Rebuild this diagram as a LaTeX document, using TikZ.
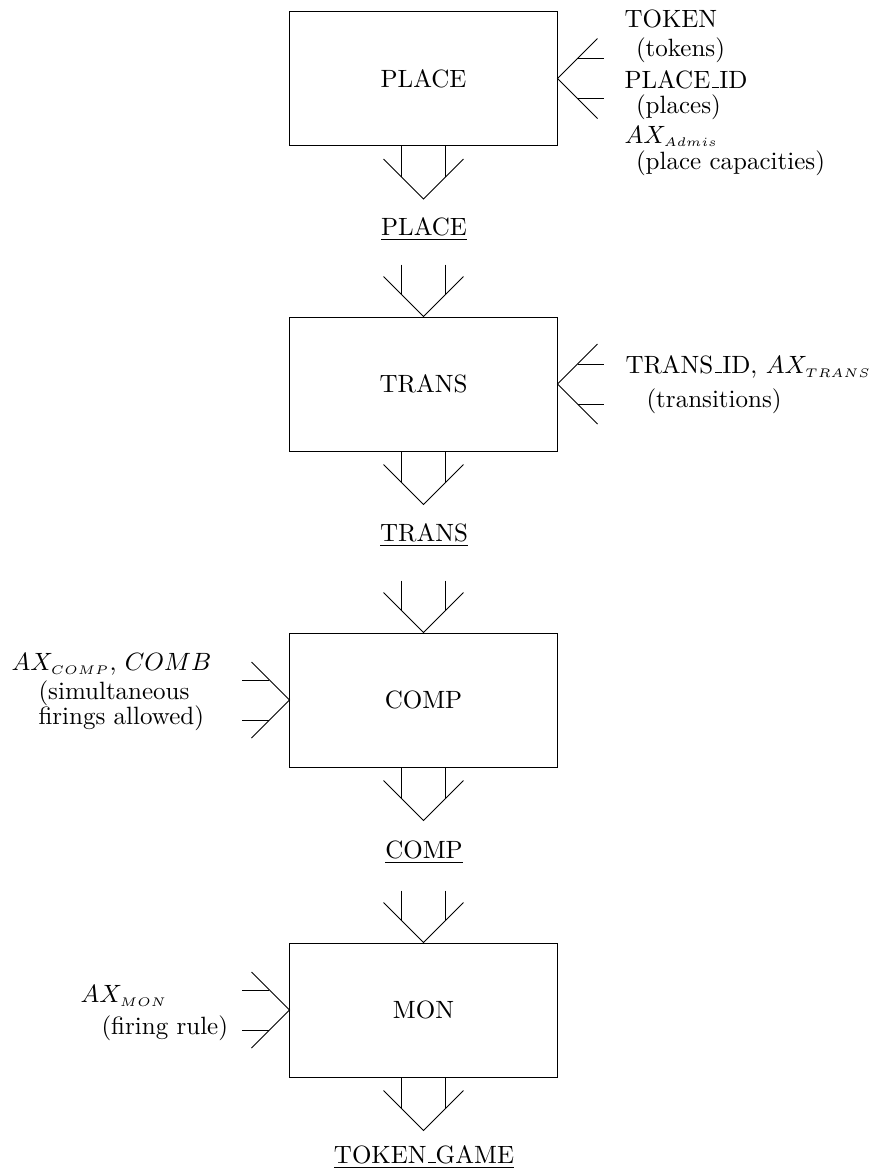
\documentclass[tikz,border=0pt]{standalone}
\usepackage{amsmath}
\usepackage{tikz}
\usetikzlibrary{calc}
\newcommand\usc{\leavevmode\kern.06em\vbox{\hrule width.3em}}
\newcommand\sub[1]{_{\scriptscriptstyle #1}}

\begin{document}
\begin{tikzpicture}[x=0.4pt,y=-0.4pt,
		box/.style={draw,minimum width=106.8pt,minimum height=53.6pt,inner sep=0pt},
		lbl/.style={anchor=north west,inner sep=0pt,align=left},
		uname/.style={anchor=base,inner sep=0pt},
		pics/outarr/.style={code={
			\draw (-40,13) -- (0,53) -- (40,13);
			\draw (-22,0) -- (-22,31) (22,0) -- (22,31);
		}},
		pics/inarr/.style={code={
			\draw (-40,-40) -- (0,0) -- (40,-40);
			\draw (-22,-52) -- (-22,-22) (22,-52) -- (22,-22);
		}},
		pics/leftarr/.style={code={
			\draw (40,-40) -- (0,0) -- (40,40);
			\draw (20,-20) -- (46,-20) (20,20) -- (46,20);
		}},
		pics/rightarr/.style={code={
			\draw (-38,-38) -- (0,0) -- (-38,38);
			\draw (-20,-20) -- (-47,-20) (-20,20) -- (-47,20);
		}}]
		\useasboundingbox (0,0) rectangle (879,1176);
		\node[box] (place) at (423.5,78.5) {PLACE};
		\node[box] (trans) at (423.5,384) {TRANS};
		\node[box] (comp) at (423.5,700) {COMP};
		\node[box] (mon) at (423.5,1010) {MON};
		\node[uname] (placeU) at (424,235) {\underline{PLACE}};
		\node[uname] (transU) at (424,541) {\underline{TRANS}};
		\node[uname] (compU) at (424,858) {\underline{COMP}};
		\node[uname] (gameU) at (424,1163) {\underline{TOKEN\usc GAME}};
		\pic at (place.south) {outarr};
		\pic at (trans.north) {inarr};
		\pic at (trans.south) {outarr};
		\pic at (comp.north) {inarr};
		\pic at (comp.south) {outarr};
		\pic at (mon.north) {inarr};
		\pic at (mon.south) {outarr};
		\pic at (place.east) {leftarr};
		\pic at (trans.east) {leftarr};
		\pic at (comp.west) {rightarr};
		\pic at (mon.west) {rightarr};
		\node[lbl] (placeIn) at (624,9) {TOKEN\\[-0.4pt]\hspace*{4.6pt}(tokens)\\[0.8pt]PLACE\usc ID\\[-2pt]\hspace*{4.6pt}(places)\\[0pt]$AX\sub{Admis}$\\[-1.6pt]\hspace*{4.6pt}(place capacities)};
		\node[lbl] (transIn) at (625,355) {TRANS\usc ID, $AX\sub{TRANS}$\\[1.6pt]\hspace*{8.4pt}(transitions)};
		\node[lbl] (compIn) at (11,653) {$AX\sub{COMP}$, $COMB$\\[-0.4pt]\hspace*{10.8pt}(simultaneous\\[-2pt]\hspace*{10.8pt}firings allowed)};
		\node[lbl] (monIn) at (80,985) {$AX\sub{MON}$\\[0.8pt]\hspace*{8.4pt}(firing rule)};
		\end{tikzpicture}
\end{document}
